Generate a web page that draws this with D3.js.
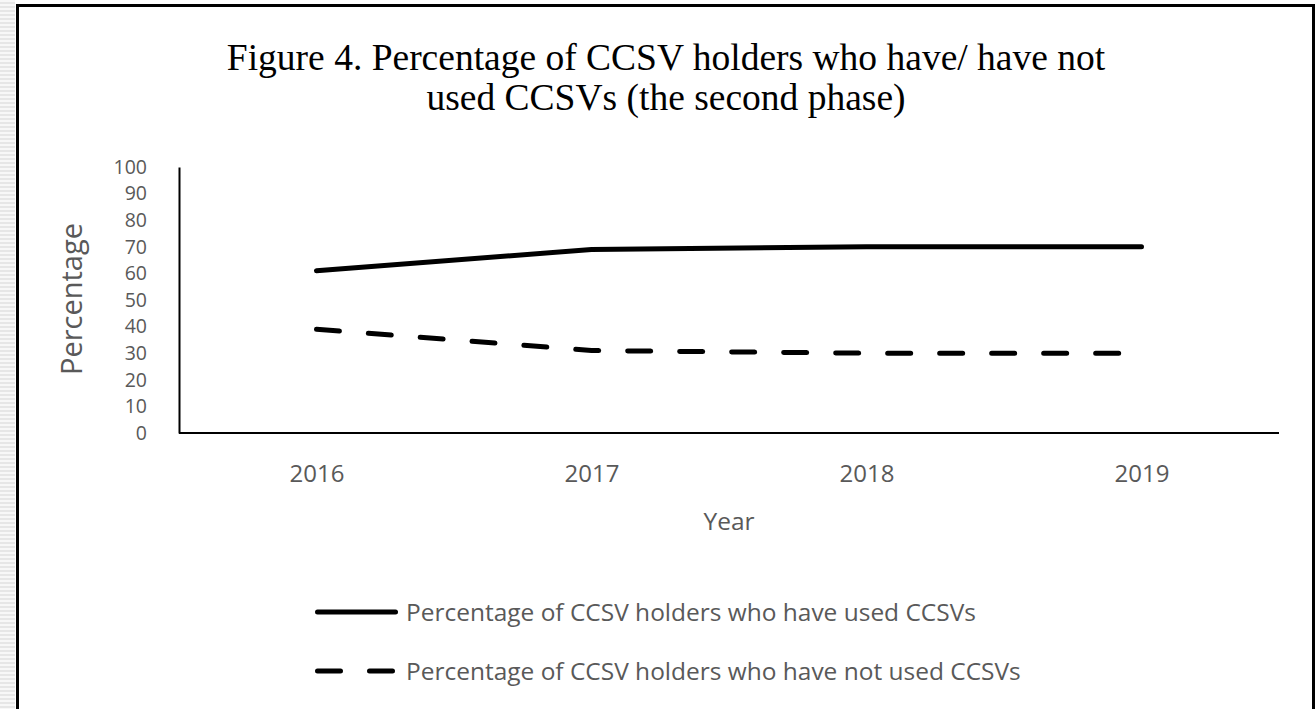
<!DOCTYPE html>
<html>
<head>
<meta charset="utf-8">
<script src="https://cdn.jsdelivr.net/npm/d3@7"></script>
<style>
  body { margin: 0; background: #fff; }
  svg { display: block; }
</style>
</head>
<body>
<div id="chart"></div>
<script>
var years = ["2016", "2017", "2018", "2019"];
var usedValues = [61, 69, 70, 70];
var notUsedValues = [39, 31, 30, 30];
var yTicks = [0, 10, 20, 30, 40, 50, 60, 70, 80, 90, 100];
var titleLines = ["Figure 4. Percentage of CCSV holders who have/ have not", "used CCSVs (the second phase)"];
var seriesNames = ["Percentage of CCSV holders who have used CCSVs", "Percentage of CCSV holders who have not used CCSVs"];

var W = 1315, H = 709;
var grey = "#595959";
var sans = "'Open Sans', 'Noto Sans', sans-serif";

var svg = d3.select("#chart").append("svg")
  .attr("width", W)
  .attr("height", H)

// striped strip on the left edge
var defs = svg.append("defs")
var pat = defs.append("pattern")
  .attr("id", "stripes")
  .attr("width", 16)
  .attr("height", 4)
  .attr("patternUnits", "userSpaceOnUse")
pat.append("rect").attr("width", 16).attr("height", 4).attr("fill", "#f7f7f7")
pat.append("rect").attr("y", 2).attr("width", 16).attr("height", 2).attr("fill", "#e6e6e6")

svg.append("rect")
  .attr("x", 0).attr("y", 0)
  .attr("width", 15).attr("height", H)
  .attr("fill", "url(#stripes)")

// outer frame
svg.append("path")
  .attr("d", "M17.5," + (H + 5) + " V5.5 H1313.5 V" + (H + 5))
  .attr("fill", "none")
  .attr("stroke", "black")
  .attr("stroke-width", 3)

// title
svg.selectAll(".title")
  .data(titleLines)
  .enter()
  .append("text")
  .attr("class", "title")
  .text(d => d)
  .attr("x", 666)
  .attr("y", (d, i) => 70 + i * 40)
  .attr("font-family", "'Liberation Serif', 'Times New Roman', serif")
  .attr("font-size", 37.5)
  .attr("fill", "black")
  .attr("text-anchor", "middle")

var x = d3.scalePoint()
  .domain(years)
  .range([179, 1279])
  .padding(0.5)

var y = d3.scaleLinear()
  .domain([0, 100])
  .range([433, 167])

// y axis
var yAxis = svg.append("g")
  .attr("transform", "translate(179,0)")
  .call(d3.axisLeft(y).tickValues(yTicks).tickSize(0).tickPadding(32))
yAxis.select(".domain").attr("stroke", "black").attr("stroke-width", 2)
yAxis.selectAll("text")
  .attr("font-family", sans)
  .attr("font-size", 19.5)
  .attr("fill", grey)

// x axis
var xAxis = svg.append("g")
  .attr("transform", "translate(0,433)")
  .call(d3.axisBottom(x).tickSize(0).tickPadding(32))
xAxis.select(".domain")
  .attr("d", "M179,0H1279")
  .attr("stroke", "black")
  .attr("stroke-width", 2)
xAxis.selectAll("text")
  .attr("font-family", sans)
  .attr("font-size", 24)
  .attr("fill", grey)

// axis titles
svg.append("text")
  .text("Year")
  .attr("x", 729)
  .attr("y", 530)
  .attr("font-family", sans)
  .attr("font-size", 24.5)
  .attr("fill", grey)
  .attr("text-anchor", "middle")

svg.append("text")
  .text("Percentage")
  .attr("transform", "translate(82,299) rotate(-90)")
  .attr("font-family", sans)
  .attr("font-size", 29)
  .attr("fill", grey)
  .attr("text-anchor", "middle")

// lines
var line = d3.line()
  .x((d, i) => x(years[i]))
  .y(d => y(d))

svg.append("path")
  .datum(usedValues)
  .attr("d", line)
  .attr("fill", "none")
  .attr("stroke", "black")
  .attr("stroke-width", 5)
  .attr("stroke-linecap", "round")
  .attr("stroke-linejoin", "round")

svg.append("path")
  .datum(notUsedValues)
  .attr("d", line)
  .attr("fill", "none")
  .attr("stroke", "black")
  .attr("stroke-width", 5)
  .attr("stroke-linecap", "round")
  .attr("stroke-linejoin", "round")
  .attr("stroke-dasharray", "23,29")

// legend
var legendY = [612, 671];
var dashes = [null, "23,29"];

svg.selectAll(".legline")
  .data(seriesNames)
  .enter()
  .append("line")
  .attr("x1", 317.5)
  .attr("x2", 395.5)
  .attr("y1", (d, i) => legendY[i])
  .attr("y2", (d, i) => legendY[i])
  .attr("stroke", "black")
  .attr("stroke-width", 5)
  .attr("stroke-linecap", "round")
  .attr("stroke-dasharray", (d, i) => dashes[i])

var legText = svg.selectAll(".legtext")
  .data(seriesNames)
  .enter()
  .append("text")
  .text(d => d)
  .attr("x", 406)
  .attr("y", (d, i) => legendY[i])
  .attr("dy", "0.36em")
  .attr("font-family", sans)
  .attr("font-size", 22)
  .attr("fill", grey)

// fit the first legend entry to the width in the picture
var len = legText.node().getComputedTextLength();
legText.attr("font-size", 22 * 570 / len)
</script>
</body>
</html>
